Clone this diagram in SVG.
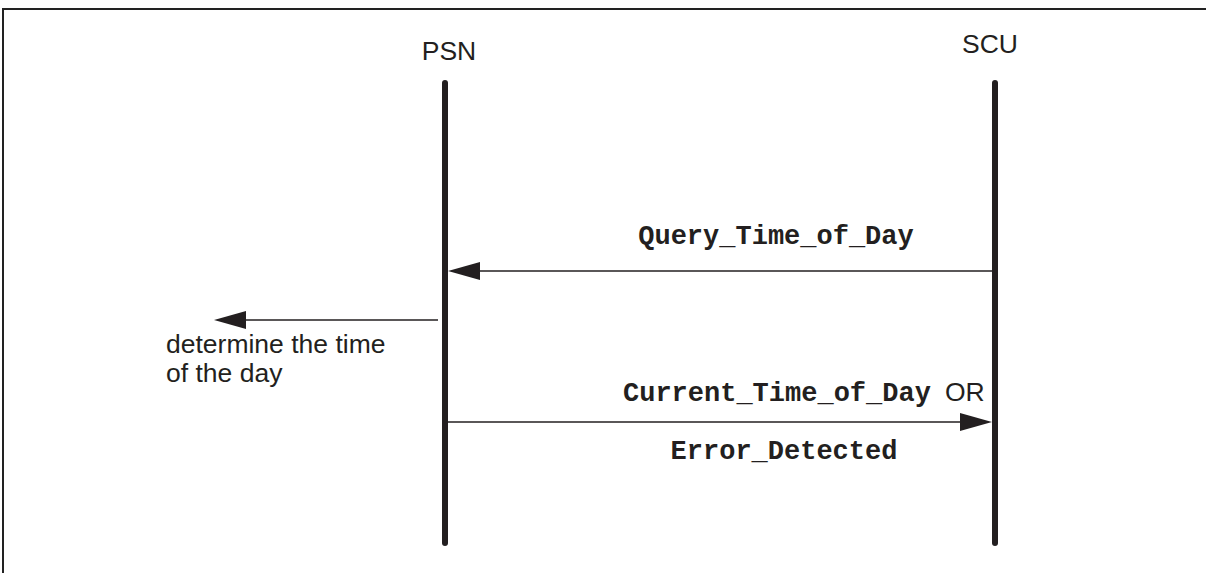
<svg xmlns="http://www.w3.org/2000/svg" width="1206" height="573" viewBox="0 0 1206 573">
<style>
.frame{fill:none;stroke:#222;stroke-width:2}
.life{stroke:#231f20;stroke-width:6;stroke-linecap:round}
.msg{stroke:#231f20;stroke-width:1.3;fill:none}
.head{fill:#231f20}
.lbl{font-family:"Liberation Sans",Arial,sans-serif;font-size:26.5px;fill:#231f20}
.mono{font-family:"Liberation Mono","Courier New",monospace;font-weight:bold;font-size:27px;fill:#231f20}
</style>
<rect width="1206" height="573" fill="#fff"/>
<path class="frame" d="M3,573 V9 H1206"/>
<g id="PSN">
<text class="lbl" x="449" y="60" text-anchor="middle">PSN</text>
<line class="life" x1="445" y1="83" x2="445" y2="543"/>
</g>
<g id="SCU">
<text class="lbl" x="990" y="53" text-anchor="middle">SCU</text>
<line class="life" x1="995" y1="83" x2="995" y2="543"/>
</g>
<g id="connectors">
<g id="query">
<line class="msg" x1="992" y1="271" x2="470" y2="271"/>
<polygon class="head" points="448,271 480,262 480,280"/>
<text class="mono" x="776" y="244" text-anchor="middle">Query_Time_of_Day</text>
</g>
<g id="determine">
<line class="msg" x1="438" y1="320" x2="240" y2="320"/>
<polygon class="head" points="214,320 246,311 246,329"/>
<text class="lbl" x="166" y="353">determine the time</text>
<text class="lbl" x="166" y="382">of the day</text>
</g>
<g id="reply">
<line class="msg" x1="448" y1="422" x2="970" y2="422"/>
<polygon class="head" points="992,422 960,413 960,431"/>
<text class="mono" x="623" y="401">Current_Time_of_Day</text>
<text class="lbl" x="945" y="401">OR</text>
<text class="mono" x="784" y="459" text-anchor="middle">Error_Detected</text>
</g>
</g>
</svg>
